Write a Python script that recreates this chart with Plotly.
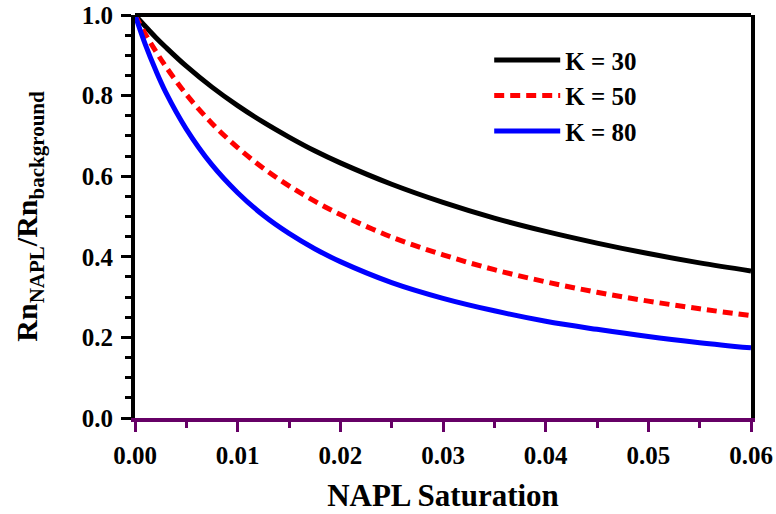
import plotly.graph_objects as go

saturation = [0.0, 0.001, 0.002, 0.003, 0.005, 0.0075, 0.01, 0.0125, 0.015, 0.0175,
              0.02, 0.025, 0.03, 0.035, 0.04, 0.045, 0.05, 0.055, 0.06]
ratio_k30 = [1.0, 0.972, 0.945, 0.920, 0.873, 0.821, 0.775, 0.734, 0.697, 0.663,
             0.633, 0.580, 0.535, 0.496, 0.463, 0.434, 0.408, 0.385, 0.365]
ratio_k50 = [1.0, 0.953, 0.911, 0.872, 0.803, 0.731, 0.671, 0.620, 0.576, 0.538,
             0.505, 0.449, 0.405, 0.368, 0.338, 0.312, 0.290, 0.271, 0.254]
ratio_k80 = [1.0, 0.927, 0.864, 0.808, 0.717, 0.628, 0.559, 0.503, 0.458, 0.420,
             0.388, 0.336, 0.297, 0.266, 0.240, 0.220, 0.202, 0.187, 0.174]
series_names = ["K = 30", "K = 50", "K = 80"]

FONT = "Liberation Serif"
PURPLE = "#660066"

fig = go.Figure()
styles = [("black", "solid"), ("red", "10px,6px"), ("blue", "solid")]
for i, (name, vals) in enumerate(zip(series_names, [ratio_k30, ratio_k50, ratio_k80])):
    color, dash = styles[i]
    fig.add_trace(go.Scatter(
        x=saturation, y=vals, mode="lines", name=name,
        line=dict(color=color, width=5, dash=dash, shape="spline"),
    ))

fig.update_layout(
    width=776, height=514,
    margin=dict(l=135, r=25, t=15, b=96),
    plot_bgcolor="white", paper_bgcolor="white",
    showlegend=True,
    legend=dict(
        x=0.575, y=0.945, xanchor="left", yanchor="top",
        font=dict(family=FONT, size=25, color="black", weight="bold"),
        bgcolor="rgba(0,0,0,0)", itemwidth=66, traceorder="normal",
    ),
    xaxis=dict(
        range=[0, 0.06], tickvals=[0, 0.01, 0.02, 0.03, 0.04, 0.05, 0.06],
        tickformat=".2f", showgrid=False, zeroline=False, automargin=False,
        showline=True, linecolor=PURPLE, linewidth=4,
        ticks="outside", ticklen=10, tickwidth=3, tickcolor=PURPLE,
        ticklabelstandoff=2,
        minor=dict(dtick=0.005, ticks="outside", ticklen=6, tickwidth=3, tickcolor=PURPLE),
        tickfont=dict(family=FONT, size=25, color="black", weight="bold"),
        title=dict(text="NAPL Saturation", standoff=17,
                   font=dict(family=FONT, size=31, color="black", weight="bold")),
    ),
    yaxis=dict(
        range=[0, 1.0], tickvals=[0, 0.2, 0.4, 0.6, 0.8, 1.0],
        tickformat=".1f", showgrid=False, zeroline=False, automargin=False,
        showline=True, linecolor="black", linewidth=4, mirror=True,
        ticks="outside", ticklen=10, tickwidth=3, tickcolor="black",
        ticklabelstandoff=3,
        minor=dict(dtick=0.05, ticks="outside", ticklen=6, tickwidth=3, tickcolor="black"),
        tickfont=dict(family=FONT, size=25, color="black", weight="bold"),
        title=dict(text="Rn<sub>NAPL</sub>/Rn<sub>background</sub>", standoff=36,
                   font=dict(family=FONT, size=30, color="black", weight="bold")),
    ),
)
# top frame line
fig.add_shape(type="line", xref="paper", yref="paper", x0=0, x1=1, y0=1, y1=1,
              line=dict(color="black", width=4))
fig.write_html("out.html", config={"displayModeBar": False},
               post_script="document.body.style.margin='0px';document.body.style.overflow='hidden';")
